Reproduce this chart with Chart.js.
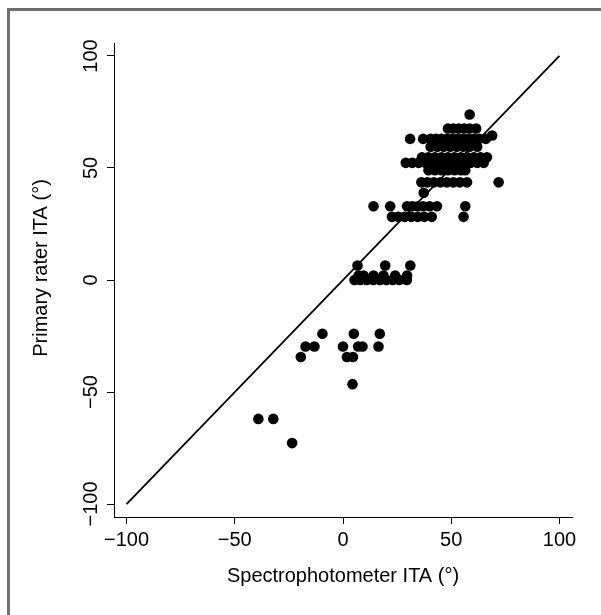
<!DOCTYPE html>
<html>
<head>
<meta charset="utf-8">
<script src="https://cdn.jsdelivr.net/npm/chart.js@4.4.0/dist/chart.umd.min.js"></script>
<style>
  html, body { margin: 0; padding: 0; background: #fff; overflow: hidden; }
  canvas { position: absolute; left: 0; top: 0; }
  #frame { position: absolute; left: 7px; top: 8px; width: 700px; height: 700px;
           border-left: 3px solid #6e6e6e; border-top: 3px solid #6e6e6e; }
</style>
</head>
<body>
<canvas id="chart" width="601" height="615"></canvas>
<div id="frame"></div>
<script>
// paired readings: spectrophotometer ITA (x) vs primary rater ITA (y)
var spectroITA = [
  58.5,
  48.5, 51, 53.5, 56, 58.5, 61.5,
  68.9,
  31, 37, 40.5, 43, 45.5, 48, 50.5, 53, 55.5, 58, 60.5, 63, 66,
  40.5, 43.5, 46.5, 49.5, 52.5, 55.5, 58.5, 62,
  36.5, 39.5, 42.5, 45.5, 48.5, 51.5, 54.5, 57.5, 60.5, 63.5, 66.5,
  29, 32, 35, 38, 41, 44, 47, 50, 53, 56, 59, 62, 65,
  39.5, 42.5, 45.5, 48.5, 51.5, 54.5, 56.5,
  36.2, 39, 42, 45, 48, 51, 54, 57.3, 71.9,
  37.3,
  14.1, 21.8, 29.6, 32, 34.5, 37, 40, 43.4, 56.5,
  22.6, 25.5, 28.5, 31.5, 34.5, 37.5, 41, 55.7,
  6.7, 19.5, 31.1,
  7.2, 9.5, 14.1, 18.7, 24.1, 29.6,
  5.3, 8, 11, 14, 17, 20, 23, 26, 29.5,
  -9.5, 5, 17,
  -17.3, -13.2, 0, 7, 9, 16.4,
  -19.5, 1.8, 4.6,
  4.4,
  -39.1, -32.2,
  -23.5
];
var raterITA = [
  73.9,
  67.6, 67.6, 67.6, 67.6, 67.6, 67.6,
  64.5,
  63, 63, 63, 63, 63, 63, 63, 63, 63, 63, 63, 63, 63,
  59.5, 59.5, 59.5, 59.5, 59.5, 59.5, 59.5, 59.5,
  54.8, 54.8, 54.8, 54.8, 54.8, 54.8, 54.8, 54.8, 54.8, 54.8, 54.8,
  52.3, 52.3, 52.3, 52.3, 52.3, 52.3, 52.3, 52.3, 52.3, 52.3, 52.3, 52.3, 52.3,
  49, 49, 49, 49, 49, 49, 49,
  43.6, 43.6, 43.6, 43.6, 43.6, 43.6, 43.6, 43.6, 43.6,
  38.9,
  32.9, 32.9, 32.9, 32.9, 32.9, 32.9, 32.9, 32.9, 32.9,
  28.2, 28.2, 28.2, 28.2, 28.2, 28.2, 28.2, 28.2,
  6.5, 6.5, 6.5,
  2, 2, 2, 2, 2, 2,
  0, 0, 0, 0, 0, 0, 0, 0, 0,
  -24, -24, -24,
  -29.7, -29.7, -29.7, -29.7, -29.7, -29.7,
  -34.4, -34.4, -34.4,
  -46.5,
  -62, -62,
  -72.8
];
var identityLine = [-100, 100];
var xTicks = [-100, -50, 0, 50, 100];
var yTicks = [-100, -50, 0, 50, 100];
var xTitle = 'Spectrophotometer ITA (\u00b0)';
var yTitle = 'Primary rater ITA (\u00b0)';

var FONT = '"Liberation Sans", Arial, sans-serif';
Chart.defaults.font.family = FONT;
Chart.defaults.color = '#000';

function tickText(v) {
  return v < 0 ? '\u2212' + Math.abs(v) : String(v);
}

var points = [];
for (var i = 0; i < spectroITA.length; i++) {
  points.push({ x: spectroITA[i], y: raterITA[i] });
}

// vertical tick labels and title on the y axis (Stata style)
var yAxisText = {
  id: 'yAxisText',
  afterDraw: function(chart) {
    var ctx = chart.ctx, sc = chart.scales.y;
    ctx.save();
    ctx.fillStyle = '#000';
    ctx.font = '20px ' + FONT;
    ctx.textAlign = 'center';
    ctx.textBaseline = 'middle';
    yTicks.forEach(function(v) {
      ctx.save();
      ctx.translate(91, sc.getPixelForValue(v));
      ctx.rotate(-Math.PI / 2);
      ctx.fillText(tickText(v), 0, 0);
      ctx.restore();
    });
    ctx.translate(41, (sc.top + sc.bottom) / 2 - 12);
    ctx.rotate(-Math.PI / 2);
    ctx.fillText(yTitle, 0, 0);
    ctx.restore();
  }
};

function setTicks(list) {
  return function(scale) {
    scale.ticks = list.map(function(v) { return { value: v }; });
  };
}

new Chart(document.getElementById('chart').getContext('2d'), {
  type: 'scatter',
  data: {
    datasets: [{
      type: 'line',
      data: identityLine.map(function(v) { return { x: v, y: v }; }),
      borderColor: '#000',
      borderWidth: 1.8,
      pointRadius: 0,
      order: 0
    }, {
      data: points,
      backgroundColor: '#000',
      borderWidth: 0,
      pointRadius: 5.3,
      order: 1
    }]
  },
  options: {
    responsive: false,
    animation: false,
    layout: { padding: { left: 0, top: 43, right: 29, bottom: 0 } },
    plugins: { legend: { display: false }, tooltip: { enabled: false } },
    scales: {
      x: {
        type: 'linear',
        min: -105.8, max: 105.8,
        afterBuildTicks: setTicks(xTicks),
        afterFit: function(scale) { scale.height = 98; },
        border: { display: true, color: '#000', width: 1 },
        grid: { drawOnChartArea: false, drawTicks: true, tickLength: 7, color: '#000', tickColor: '#000' },
        ticks: { font: { size: 20 }, color: '#000', padding: 4, maxRotation: 0,
                 callback: function(v) { return tickText(v); } },
        title: { display: true, text: xTitle, font: { size: 20 }, color: '#000',
                 padding: { top: 0, bottom: 27 } }
      },
      y: {
        type: 'linear',
        min: -105.8, max: 105.8,
        afterBuildTicks: setTicks(yTicks),
        afterFit: function(scale) { scale.width = 114; },
        border: { display: true, color: '#000', width: 1 },
        grid: { drawOnChartArea: false, drawTicks: true, tickLength: 7, color: '#000', tickColor: '#000' },
        ticks: { display: false }
      }
    }
  },
  plugins: [yAxisText]
});
</script>
</body>
</html>
